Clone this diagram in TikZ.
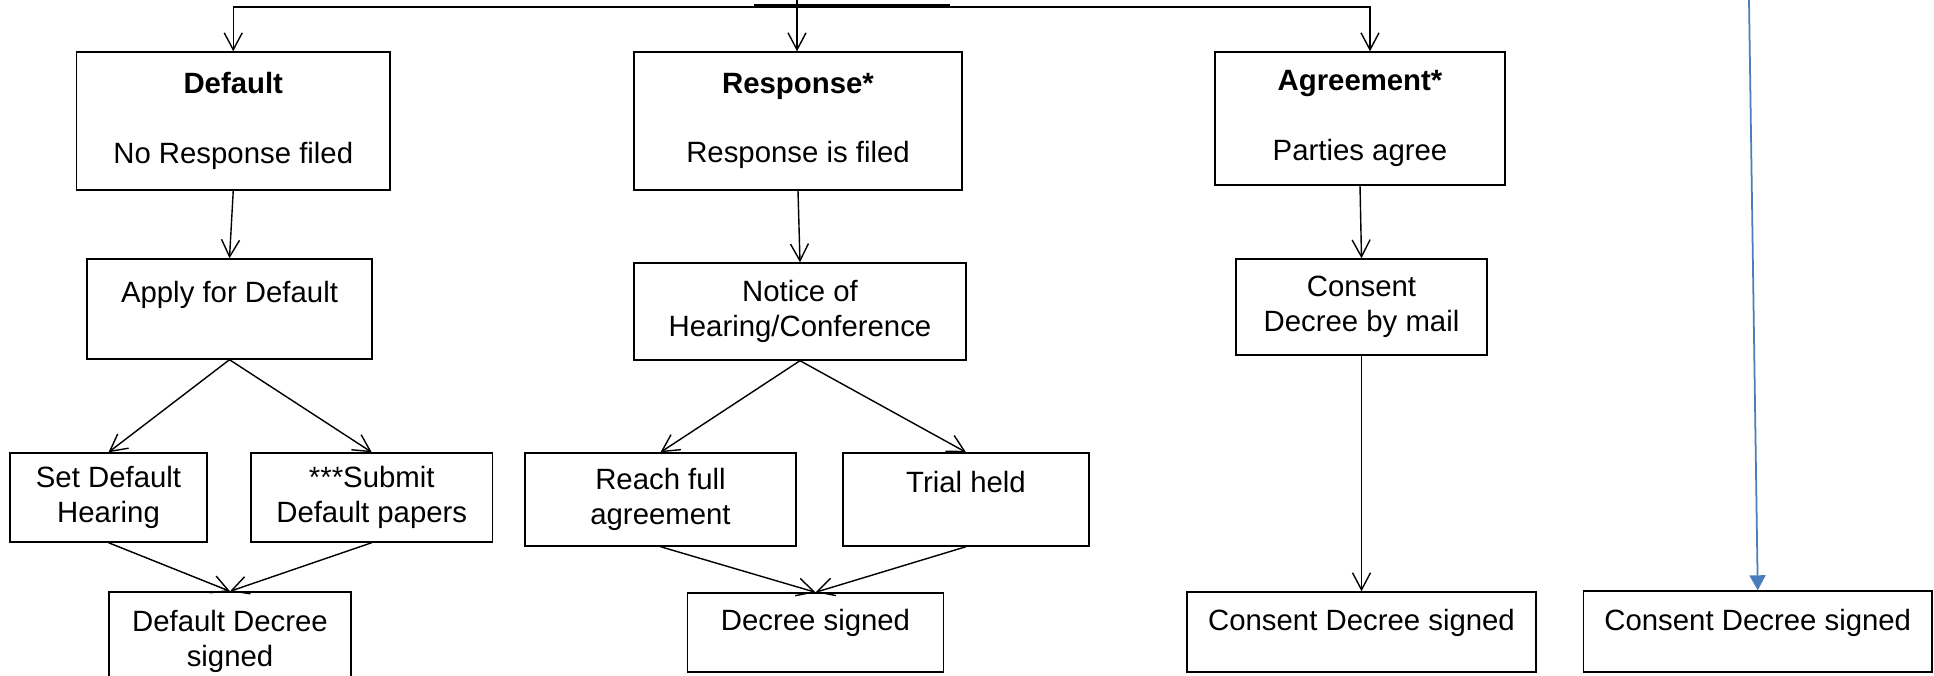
\documentclass[tikz,border=0pt]{standalone}
\usepackage{fontspec}
\setmainfont{Liberation Sans}
\usepackage{tikz}
\usetikzlibrary{arrows.meta,positioning,calc}
\usepackage{xcolor}
\definecolor{linkblue}{RGB}{74,126,187}
\newcommand{\boxfont}{\fontsize{16.7}{19.6}\selectfont}

\begin{document}
\begin{tikzpicture}[
        box/.style={draw,line width=0.8pt,inner sep=0pt,align=center,font=\boxfont},
        arr/.style={-{Straight Barb[length=0.34cm,width=0.36cm]},line width=0.8pt},
        bluearr/.style={-{Triangle[length=0.3cm,width=0.32cm]},linkblue,line width=1pt}]
    \useasboundingbox (0,0) rectangle (38.68,-13.52);
    % first row
    \node[box,minimum width=6.27cm,minimum height=2.76cm] (default) at (4.665,-2.42)
        {\textbf{Default}\\[20pt]No Response filed};
    \node[box,minimum width=6.56cm,minimum height=2.76cm] (response) at (15.96,-2.42)
        {\textbf{Response*}\\[20pt]Response is filed};
    \node[box,minimum width=5.8cm,minimum height=2.66cm] (agreement) at (27.2,-2.37)
        {\textbf{Agreement*}\\[20pt]Parties agree};
    % second row
    \node[box,minimum width=5.7cm,text height=0.88cm,text depth=1.12cm] (apply) at (4.59,-6.18)
        {Apply for Default};
    \node[box,minimum width=6.64cm,minimum height=1.94cm] (notice) at (16.0,-6.23)
        {Notice of\\Hearing/Conference};
    \node[box,minimum width=5.02cm,minimum height=1.92cm] (mail) at (27.23,-6.14)
        {Consent\\Decree by mail};
    % third row
    \node[box,minimum width=3.94cm,minimum height=1.78cm] (sethearing) at (2.17,-9.95)
        {Set Default\\Hearing};
    \node[box,minimum width=4.83cm,minimum height=1.78cm] (submit) at (7.435,-9.95)
        {***Submit\\Default papers};
    \node[box,minimum width=5.42cm,minimum height=1.86cm] (reach) at (13.21,-9.99)
        {Reach full\\agreement};
    \node[box,minimum width=4.92cm,text height=0.78cm,text depth=1.08cm] (trial) at (19.32,-9.99)
        {Trial held};
    % last row
    \node[box,minimum width=4.84cm,minimum height=1.98cm] (defdecree) at (4.6,-12.83)
        {Default Decree\\signed};
    \node[box,minimum width=5.12cm,text height=0.74cm,text depth=0.84cm] (decree) at (16.31,-12.65)
        {Decree signed};
    \node[box,minimum width=6.98cm,text height=0.76cm,text depth=0.84cm] (consent) at (27.23,-12.64)
        {Consent Decree signed};
    \node[box,minimum width=6.97cm,text height=0.78cm,text depth=0.84cm] (consentB) at (35.155,-12.63)
        {Consent Decree signed};
    % feed line at the top
    \coordinate (feed) at (15.94,0);
    \coordinate (bus) at (15.94,-0.14);
    \coordinate (busR) at (27.4,-0.14);
    \coordinate (seamA) at (15.08,-0.1);
    \coordinate (seamB) at (19.0,-0.1);
    \draw[line width=1.2pt] (seamA) -- (seamB);
    \draw[arr] (feed) -- (feed |- response.north);
    \draw[arr] (bus) -| (default.north);
    \draw[arr] (bus) -| (busR |- agreement.north);
    % default branch
    \draw[arr] (default.south) -- (apply.north);
    \draw[arr] (apply.south) -- (sethearing.north);
    \draw[arr] (apply.south) -- (submit.north);
    \draw[arr] (sethearing.south) -- (defdecree.north);
    \draw[arr] (submit.south) -- (defdecree.north);
    % response branch
    \draw[arr] (response.south) -- (notice.north);
    \draw[arr] (notice.south) -- (reach.north);
    \draw[arr] (notice.south) -- (trial.north);
    \draw[arr] (reach.south) -- (decree.north);
    \draw[arr] (trial.south) -- (decree.north);
    % agreement branch
    \draw[arr] (agreement.south) -- (mail.north);
    \draw[arr] (mail.south) -- (consent.north);
    \coordinate (blueTop) at (34.98,0);
    \draw[bluearr] (blueTop) -- (consentB.north);
\end{tikzpicture}
\end{document}
